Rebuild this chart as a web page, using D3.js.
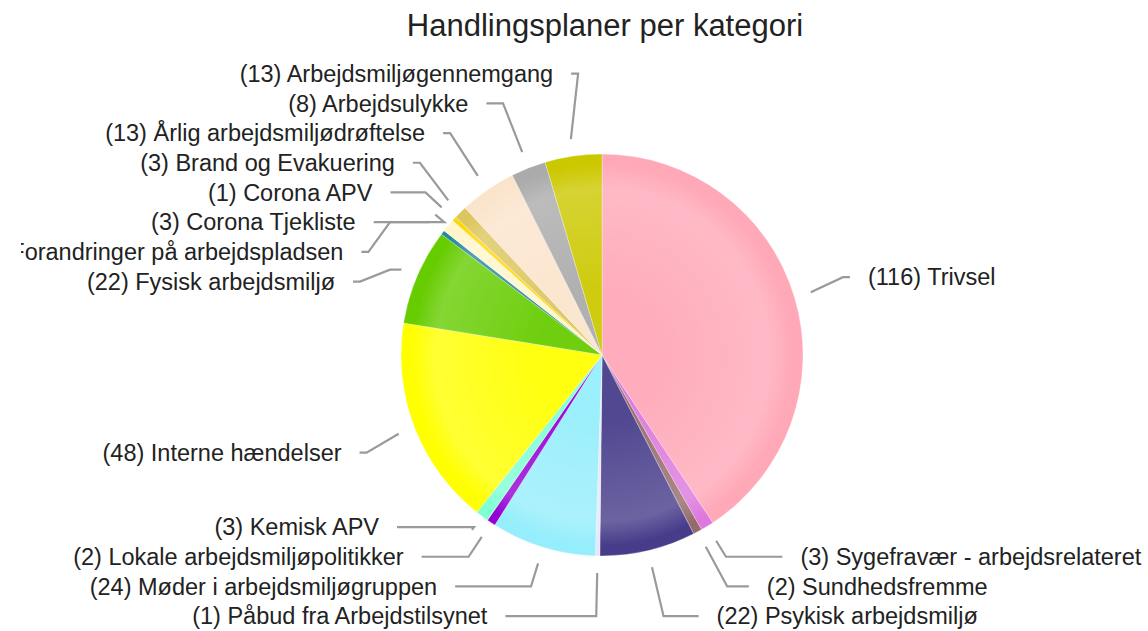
<!DOCTYPE html>
<html><head><meta charset="utf-8">
<script src="https://cdn.jsdelivr.net/npm/d3@7"></script>
<style>html,body{margin:0;padding:0;background:#fff;overflow:hidden}</style>
</head><body>
<svg id="chart" width="1148" height="631"></svg>
<script>
// ---- data ----
const chartTitle = "Handlingsplaner per kategori";
const categories = ["Trivsel","Sygefravær - arbejdsrelateret","Sundhedsfremme","Psykisk arbejdsmiljø","Påbud fra Arbejdstilsynet","Møder i arbejdsmiljøgruppen","Lokale arbejdsmiljøpolitikker","Kemisk APV","Interne hændelser","Fysisk arbejdsmiljø","Forandringer på arbejdspladsen","Corona Tjekliste","Corona APV","Brand og Evakuering","Årlig arbejdsmiljødrøftelse","Arbejdsulykke","Arbejdsmiljøgennemgang"];
const values = [116,3,2,22,1,24,2,3,48,22,1,3,1,3,13,8,13];
const colors = ["#FFA8B8","#DD78DD","#946A6A","#473C8A","#E6E6FA","#96EEFC","#9400D3","#7FFFD4","#FFFF00","#66CC00","#238A9A","#FFF6CC","#FFD700","#DCC65E","#FBE4CC","#ABABAB","#CCC800"];

// ---- layout ----
const W = 1148, H = 631;
const cx = 602, cy = 355, r = 201;
const labelR = 270.4, boxH = 29.7, boxPad = 3;
const tailPad = 17, connPad = 15, midSpace = 7, circleSpace = 4, srSpace = 11;
const areaTop = 50, areaBottom = 631, clipLeft = 21;
const font = "'Liberation Sans', Arial, sans-serif";
const labelSize = 23.5;

const svg = d3.select("#chart");
const defs = svg.append("defs");
const grad = defs.append("radialGradient").attr("id","bevel")
  .attr("gradientUnits","userSpaceOnUse").attr("cx",0).attr("cy",0).attr("r",r);
[[0.33,0.06],[0.83,0.2],[0.95,0]].forEach(([o,a]) =>
  grad.append("stop").attr("offset",o).attr("stop-color","#fff").attr("stop-opacity",a));
defs.append("clipPath").attr("id","clipL").append("rect")
  .attr("x",clipLeft).attr("y",0).attr("width",W-clipLeft).attr("height",H);

svg.append("text").attr("x",605).attr("y",36).attr("text-anchor","middle")
  .attr("font-family",font).attr("font-size",31).attr("fill","#222").text(chartTitle);

const data = categories.map((c,i) => ({name:c, value:values[i], color:colors[i]}));
const pie = d3.pie().sort(null).value(d => d.value);
const arcs = pie(data);
const arc = d3.arc().innerRadius(0).outerRadius(r);

const gPie = svg.append("g").attr("transform",`translate(${cx},${cy})`);
gPie.selectAll("path.s").data(arcs).join("path").attr("class","s")
  .attr("d",arc).attr("fill",d => d.data.color)
  .attr("stroke","#fff").attr("stroke-width",0.5).attr("stroke-opacity",0.6);
gPie.selectAll("path.o").data(arcs).join("path").attr("class","o")
  .attr("d",arc).attr("fill","url(#bevel)");

function pt(a, R){ return {x: cx + R*Math.sin(a), y: cy - R*Math.cos(a)}; }

const labels = arcs.map(d => {
  const a = (d.startAngle + d.endAngle)/2;
  const lp = pt(a, labelR);
  return {d, a, nx: lp.x, ny: lp.y, right: lp.x >= cx,
          text: "(" + d.data.value + ") " + d.data.name};
});

function distribute(list){
  list.sort((p,q) => p.ny - q.ny);
  const n = list.length;
  const dist = [];
  dist.push((list[0].ny - boxH/2) - areaTop);
  for (let i=1;i<n;i++) dist.push((list[i].ny - boxH/2) - (list[i-1].ny + boxH/2));
  dist.push(areaBottom - (list[n-1].ny + boxH/2));
  const count = dist.length;
  const take = (anchor, pos, amount) => {
    if (dist[pos] > 0) {
      const av = Math.min(dist[pos], amount);
      amount -= av; dist[pos] -= av; dist[anchor] += av;
    }
    return amount;
  };
  for (let i=0;i<count;i++){
    let left = i, right = i, remaining = -dist[i];
    while (remaining > 0 && (left >= 0 || right < count)) {
      remaining = take(i, --left, remaining);
      remaining = take(i, ++right, remaining);
    }
  }
  let y = areaTop;
  list.forEach((l,i) => {
    y += dist[i];
    l.y1 = y; l.y2 = y + boxH; l.cy = y + boxH/2;
    y = l.y2;
    const t = Math.min(Math.abs(cy - l.y1), Math.abs(cy - l.y2));
    const dx = t > labelR ? Math.abs(l.nx - cx) : Math.sqrt(labelR*labelR - t*t);
    l.bx = l.right ? cx + dx : cx - dx;
  });
}
distribute(labels.filter(l => l.right));
distribute(labels.filter(l => !l.right));

function connector(l){
  const start = pt(l.a, r + tailPad);
  const pts = [[start.x, start.y]];
  const ey = l.cy;
  const dyr = start.y - cy;
  let crossX = null;
  if (Math.abs(dyr) > 1e-9) crossX = cx + (start.x - cx) * (ey - cy) / dyr;
  if (l.right) {
    const endX = l.bx - connPad, midX = endX - midSpace;
    let cxp = crossX === null ? midX : Math.min(crossX, midX);
    const inside = Math.hypot(cxp - cx, ey - cy) < r + circleSpace;
    if (inside || cxp < cx) {
      const sr = cx + r + srSpace;
      pts.push([start.x < sr ? sr : start.x + 2*midSpace, start.y]);
      pts.push([midX, ey]);
    } else pts.push([cxp, ey]);
    pts.push([endX, ey]);
  } else {
    const endX = l.bx + connPad, midX = endX + midSpace;
    let cxp = crossX === null ? midX : Math.max(crossX, midX);
    const inside = Math.hypot(cxp - cx, ey - cy) < r + circleSpace;
    if (inside || cxp > cx) {
      const sr = cx - r - srSpace;
      pts.push([start.x > sr ? sr : start.x - 2*midSpace, start.y]);
      pts.push([midX, ey]);
    } else pts.push([cxp, ey]);
    pts.push([endX, ey]);
  }
  return d3.line()(pts);
}

svg.append("g").selectAll("path").data(labels).join("path")
  .attr("d", connector).attr("fill","none")
  .attr("stroke","#9a9a9a").attr("stroke-width",2.2).attr("stroke-linejoin","miter");

svg.append("g").attr("clip-path","url(#clipL)").selectAll("text").data(labels).join("text")
  .attr("x", l => l.right ? l.bx + boxPad : l.bx - boxPad)
  .attr("y", l => l.cy + 8.3)
  .attr("text-anchor", l => l.right ? "start" : "end")
  .attr("font-family", font).attr("font-size", labelSize).attr("fill","#222")
  .text(l => l.text);
</script>
</body></html>
